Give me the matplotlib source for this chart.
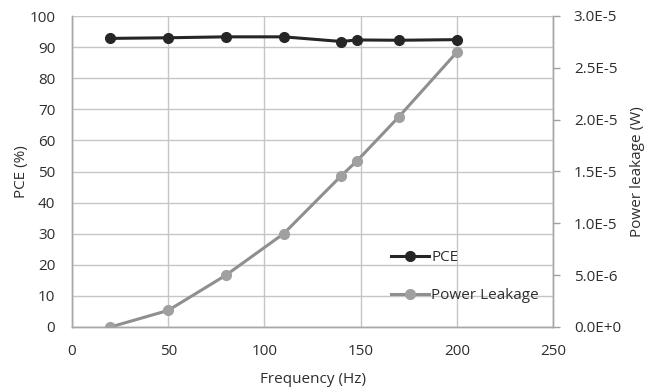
import matplotlib.pyplot as plt
from matplotlib.ticker import FuncFormatter, MultipleLocator

plt.rcParams['font.family'] = ['Open Sans', 'DejaVu Sans']

freq = [20, 50, 80, 110, 140, 148, 170, 200]
pce = [92.8, 93.0, 93.3, 93.3, 91.8, 92.3, 92.2, 92.4]
leakage = [0.0, 1.6e-6, 5.0e-6, 9.0e-6, 14.6e-6, 16.0e-6, 20.3e-6, 26.5e-6]

grid_col = '#c6c6c6'
text_col = '#2e2e2e'
fs = 11


def sci_label(v, _):
    if v == 0:
        return '0.0E+0'
    exp = int(f'{v:e}'.split('e')[1])
    return '%.1fE%d' % (v / 10 ** exp, exp)


fig = plt.figure(figsize=(6.54, 3.90), dpi=100)
ax = fig.add_axes([72 / 654, 1 - 327 / 390, (553 - 72) / 654, (327 - 16) / 390])
ax2 = ax.twinx()

ax.set_xlim(0, 250)
ax.set_ylim(0, 100)
ax.xaxis.set_major_locator(MultipleLocator(50))
ax.yaxis.set_major_locator(MultipleLocator(10))
ax.grid(True, color=grid_col, linewidth=1.0)
ax.set_axisbelow(True)
ax.tick_params(axis='y', length=0, labelsize=fs, colors=text_col, pad=12)
ax.tick_params(axis='x', length=0, labelsize=fs, colors=text_col, pad=12)

ax2.set_ylim(0, 3.0e-5)
ax2.yaxis.set_major_locator(MultipleLocator(5e-6))
ax2.yaxis.set_major_formatter(FuncFormatter(sci_label))
ax2.tick_params(axis='y', length=5, width=1, color='#a0a0a0', labelsize=fs,
                labelcolor=text_col, pad=10)

for a in (ax, ax2):
    a.spines['top'].set_visible(False)
    for side in ('left', 'bottom', 'right'):
        a.spines[side].set_color('#a8a8a8')
        a.spines[side].set_linewidth(1.0)

l1, = ax.plot(freq, pce, color='#262626', linewidth=2.2, marker='o', markersize=7,
              markerfacecolor='#262626', markeredgecolor='#262626', label='PCE', zorder=4)
l2, = ax2.plot(freq, leakage, color='#8f8f8f', linewidth=2.2, marker='o', markersize=7,
               markerfacecolor='#a0a0a0', markeredgecolor='#a0a0a0', label='Power Leakage', zorder=3)

ax.set_xlabel('Frequency (Hz)', fontsize=fs, color=text_col, va='center')
ax.xaxis.set_label_coords(0.5, -0.17)
ax.set_ylabel('PCE (%)', fontsize=fs, color=text_col, va='center')
ax.yaxis.set_label_coords(-0.104, 0.5)
ax2.set_ylabel('Power leakage (W)', fontsize=fs, color=text_col, va='center')
ax2.yaxis.set_label_coords(1.175, 0.5)

ax2.legend([l1, l2], ['PCE', 'Power Leakage'], loc='lower right',
           bbox_to_anchor=(1.0, 0.032), frameon=False, fontsize=fs,
           handlelength=2.5, handletextpad=0.15, labelspacing=1.5, labelcolor=text_col)

fig.savefig('out.png', dpi=100)
